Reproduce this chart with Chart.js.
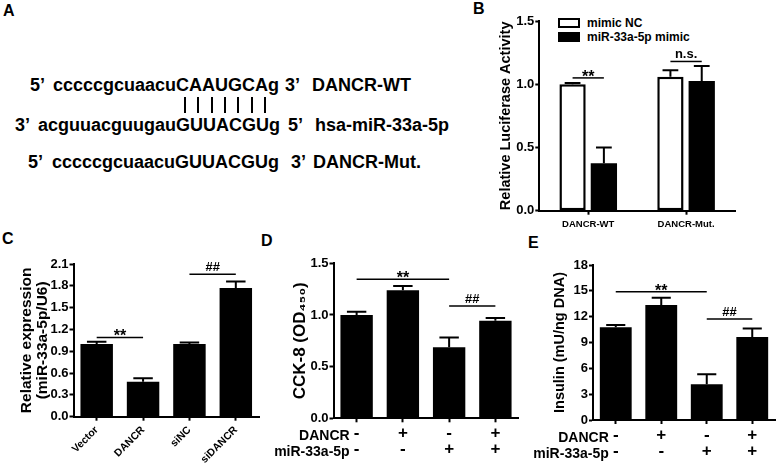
<!DOCTYPE html>
<html>
<head>
<meta charset="utf-8">
<script src="https://cdn.jsdelivr.net/npm/chart.js@4.4.0/dist/chart.umd.min.js"></script>
<style>
  html, body { margin: 0; padding: 0; background: #fff; }
  #fig { position: relative; width: 778px; height: 463px; overflow: hidden;
         font-family: "Liberation Sans", Arial, sans-serif; font-weight: bold; color: #000; }
  .t { position: absolute; white-space: nowrap; }
  .seq { font-size: 18px; line-height: 18px; }
  .lab { font-size: 16px; line-height: 16px; }
  .lg { font-size: 12px; line-height: 12px; }
  .pair { position: absolute; width: 2px; height: 16px; background: #000; top: 97px; }
  .lgbox { position: absolute; left: 558px; width: 22px; height: 10px; box-sizing: border-box; border: 2px solid #000; }
  canvas { position: absolute; }
</style>
</head>
<body>
<div id="fig">
  <!-- panel letters -->
  <div class="t lab" style="left:3px;top:3px">A</div>
  <div class="t lab" style="left:473px;top:1px">B</div>
  <div class="t lab" style="left:2px;top:231px">C</div>
  <div class="t lab" style="left:261px;top:233px">D</div>
  <div class="t lab" style="left:528px;top:235px">E</div>

  <!-- panel A: sequence alignment -->
  <div class="t seq" style="left:30px;top:76px">5’</div>
  <div class="t seq" style="left:53px;top:76px">cccccgcuaacuCAAUGCAg</div>
  <div class="t seq" style="left:285px;top:76px">3’</div>
  <div class="t seq" style="left:312px;top:76px">DANCR-WT</div>

  <div class="pair" style="left:184px"></div>
  <div class="pair" style="left:197px"></div>
  <div class="pair" style="left:211px"></div>
  <div class="pair" style="left:224px"></div>
  <div class="pair" style="left:237px"></div>
  <div class="pair" style="left:251px"></div>
  <div class="pair" style="left:264px"></div>

  <div class="t seq" style="left:15px;top:116px">3’</div>
  <div class="t seq" style="left:38px;top:116px">acguuacguugauGUUACGUg</div>
  <div class="t seq" style="left:288px;top:116px">5’</div>
  <div class="t seq" style="left:315px;top:116px">hsa-miR-33a-5p</div>

  <div class="t seq" style="left:28px;top:153px">5’</div>
  <div class="t seq" style="left:52px;top:153px">cccccgcuaacuGUUACGUg</div>
  <div class="t seq" style="left:291px;top:153px">3’</div>
  <div class="t seq" style="left:313px;top:153px">DANCR-Mut.</div>

  <!-- panel B legend -->
  <div class="lgbox" style="top:18px;background:#fff"></div>
  <div class="t lg" style="left:587px;top:17px">mimic NC</div>
  <div class="lgbox" style="top:32px;background:#000"></div>
  <div class="t lg" style="left:587px;top:31px">miR-33a-5p mimic</div>

  <canvas id="chartB" width="288" height="235" style="left:490px;top:0px"></canvas>
  <canvas id="chartC" width="270" height="238" style="left:0px;top:225px"></canvas>
  <canvas id="chartD" width="258" height="238" style="left:265px;top:225px"></canvas>
  <canvas id="chartE" width="263" height="238" style="left:515px;top:225px"></canvas>
</div>

<script>
// ---------------- Data ----------------

// Panel B: relative luciferase activity
const lucGroups = ["DANCR-WT", "DANCR-Mut."];
const lucSeries = ["mimic NC", "miR-33a-5p mimic"];
const lucNC = [1.00, 1.06];
const lucNCErr = [0.01, 0.05];
const lucMimic = [0.375, 1.025];
const lucMimicErr = [0.125, 0.12];

// Panel C: miR-33a-5p expression
const exprGroups = ["Vector", "DANCR", "siNC", "siDANCR"];
const exprValues = [1.00, 0.48, 1.00, 1.77];
const exprErr = [0.03, 0.05, 0.02, 0.09];

// Panels D and E share the treatment grid
const rowNames = ["DANCR", "miR-33a-5p"];
const dancrRow = ["-", "+", "-", "+"];
const mirRow = ["-", "-", "+", "+"];

// Panel D: CCK-8
const cckValues = [1.00, 1.24, 0.687, 0.945];
const cckErr = [0.03, 0.04, 0.095, 0.025];

// Panel E: insulin secretion
const insValues = [10.76, 13.35, 4.15, 9.65];
const insErr = [0.27, 0.85, 1.16, 0.98];

// Significance bars: text, from bar, to bar, height (data units)
const lucSigText = ["**", "n.s."];
const lucSigFrom = [[0, 0], [0, 1]];   // [dataset, category]
const lucSigTo = [[1, 0], [1, 1]];
const lucSigLevel = [1.05, 1.18];

const exprSigText = ["**", "##"];
const exprSigFrom = [0, 2];
const exprSigTo = [1, 3];
const exprSigLevel = [1.09, 1.96];

const cckSigText = ["**", "##"];
const cckSigFrom = [0, 2];
const cckSigTo = [2, 3];
const cckSigLevel = [1.345, 1.087];

const insSigText = ["**", "##"];
const insSigFrom = [0, 2];
const insSigTo = [2, 3];
const insSigLevel = [14.9, 11.73];

// ---------------- Chart setup ----------------

const FONT = '"Liberation Sans", Arial, sans-serif';
Chart.defaults.font.family = FONT;
Chart.defaults.font.weight = "bold";
Chart.defaults.color = "#000";
Chart.defaults.animation = false;
Chart.defaults.plugins.legend.display = false;
Chart.defaults.plugins.tooltip.enabled = false;

// upper-only error bars with a cap
function errorBars() {
    return {
        id: "errorBars",
        afterDatasetsDraw(chart) {
            const ctx = chart.ctx;
            const y = chart.scales.y;
            chart.data.datasets.forEach((ds, i) => {
                if (!ds.errors) return;
                chart.getDatasetMeta(i).data.forEach((bar, j) => {
                    const top = y.getPixelForValue(ds.data[j] + ds.errors[j]);
                    const cap = bar.width * 0.3;
                    ctx.save();
                    ctx.strokeStyle = "#000";
                    ctx.lineWidth = 2;
                    ctx.beginPath();
                    ctx.moveTo(bar.x, bar.y);
                    ctx.lineTo(bar.x, top);
                    ctx.moveTo(bar.x - cap, top);
                    ctx.lineTo(bar.x + cap, top);
                    ctx.stroke();
                    ctx.restore();
                });
            });
        }
    };
}

// horizontal significance lines with a label above
function sigMarks(texts, from, to, levels) {
    return {
        id: "sigMarks",
        afterDraw(chart) {
            const ctx = chart.ctx;
            const y = chart.scales.y;
            texts.forEach((txt, k) => {
                const a = Array.isArray(from[k]) ? chart.getDatasetMeta(from[k][0]).data[from[k][1]] : chart.getDatasetMeta(0).data[from[k]];
                const b = Array.isArray(to[k]) ? chart.getDatasetMeta(to[k][0]).data[to[k][1]] : chart.getDatasetMeta(0).data[to[k]];
                const py = y.getPixelForValue(levels[k]);
                ctx.save();
                ctx.strokeStyle = "#000";
                ctx.lineWidth = 1.5;
                ctx.beginPath();
                ctx.moveTo(a.x, py);
                ctx.lineTo(b.x, py);
                ctx.stroke();
                ctx.fillStyle = "#000";
                ctx.textAlign = "center";
                ctx.textBaseline = "alphabetic";
                if (txt === "**") {
                    ctx.font = "bold 16px " + FONT;
                    ctx.fillText(txt, (a.x + b.x) / 2, py + 4);
                } else {
                    ctx.font = "bold 13px " + FONT;
                    ctx.fillText(txt, (a.x + b.x) / 2, py - 3);
                }
                ctx.restore();
            });
        }
    };
}

// row names to the left of the +/- grid
function rowLabels(names) {
    return {
        id: "rowLabels",
        afterDraw(chart) {
            const ctx = chart.ctx;
            const x0 = chart.scales.x.getPixelForValue(0) - 7;
            ctx.save();
            ctx.font = "bold 14px " + FONT;
            ctx.fillStyle = "#000";
            ctx.textAlign = "right";
            ctx.textBaseline = "middle";
            names.forEach((n, k) => {
                ctx.fillText(n, x0, chart.chartArea.bottom + 18 + k * 16);
            });
            ctx.restore();
        }
    };
}

function yAxis(max, step, digits, width, title, titleSize, titlePad) {
    return {
        min: 0,
        max: max,
        ticks: { stepSize: step, padding: 1, font: { size: 13, weight: "bold", family: FONT }, callback: v => v.toFixed(digits) },
        grid: { drawOnChartArea: false, tickLength: 4, tickWidth: 2, tickColor: "#000" },
        border: { color: "#000", width: 2 },
        title: { display: true, text: title, font: { size: titleSize, lineHeight: 1, weight: "bold", family: FONT }, padding: { top: titlePad, bottom: 0 } },
        afterFit: s => { s.width = width; }
    };
}

function xAxis(height, fontSize, pad, rot) {
    return {
        ticks: { font: { size: fontSize, lineHeight: 16 / fontSize, weight: "bold", family: FONT }, padding: pad, maxRotation: rot, minRotation: rot, autoSkip: false },
        grid: { offset: false, drawOnChartArea: false, tickLength: 4, tickWidth: 2, tickColor: "#000" },
        border: { color: "#000", width: 2 },
        afterFit: s => { s.height = height; }
    };
}

// ---------------- Panel B ----------------
new Chart(document.getElementById("chartB"), {
    type: "bar",
    data: {
        labels: lucGroups,
        datasets: [
            { label: lucSeries[0], data: lucNC, errors: lucNCErr, backgroundColor: "#fff", borderColor: "#000", borderWidth: 2.5, borderSkipped: false },
            { label: lucSeries[1], data: lucMimic, errors: lucMimicErr, backgroundColor: "#000", borderWidth: 0 }
        ]
    },
    options: {
        responsive: false,
        categoryPercentage: 0.64,
        barPercentage: 0.84,
        layout: { padding: { top: 21, right: 43, left: 0, bottom: 0 } },
        scales: {
            x: xAxis(24.3, 9.5, 2, 0),
            y: yAxis(1.5, 0.5, 1, 49.3, "Relative Luciferase Activity", 14.5, 9)
        }
    },
    plugins: [errorBars(), sigMarks(lucSigText, lucSigFrom, lucSigTo, lucSigLevel)]
});

// ---------------- Panel C ----------------
new Chart(document.getElementById("chartC"), {
    type: "bar",
    data: {
        labels: exprGroups,
        datasets: [{ data: exprValues, errors: exprErr, backgroundColor: "#000", borderWidth: 0 }]
    },
    options: {
        responsive: false,
        categoryPercentage: 1.0,
        barPercentage: 0.7,
        layout: { padding: { top: 39, right: 11, left: 0, bottom: 0 } },
        scales: {
            x: xAxis(46.3, 10.5, 2, 45),
            y: yAxis(2.1, 0.3, 1, 73.5, ["Relative expression", "(miR-33a-5p/U6)"], 15.5, 19)
        }
    },
    plugins: [errorBars(), sigMarks(exprSigText, exprSigFrom, exprSigTo, exprSigLevel)]
});

// ---------------- Panel D ----------------
const gridLabels = dancrRow.map((d, i) => [d, mirRow[i]]);

new Chart(document.getElementById("chartD"), {
    type: "bar",
    data: {
        labels: gridLabels,
        datasets: [{ data: cckValues, errors: cckErr, backgroundColor: "#000", borderWidth: 0 }]
    },
    options: {
        responsive: false,
        categoryPercentage: 1.0,
        barPercentage: 0.7,
        layout: { padding: { top: 38.3, right: 4.5, left: 0, bottom: 0 } },
        scales: {
            x: xAxis(44.7, 17, 3, 0),
            y: yAxis(1.5, 0.5, 1, 68.5, "CCK-8 (OD₄₅₀)", 17, 26.5)
        }
    },
    plugins: [errorBars(), sigMarks(cckSigText, cckSigFrom, cckSigTo, cckSigLevel), rowLabels(rowNames)]
});

// ---------------- Panel E ----------------
new Chart(document.getElementById("chartE"), {
    type: "bar",
    data: {
        labels: gridLabels,
        datasets: [{ data: insValues, errors: insErr, backgroundColor: "#000", borderWidth: 0 }]
    },
    options: {
        responsive: false,
        categoryPercentage: 1.0,
        barPercentage: 0.7,
        layout: { padding: { top: 40, right: 3, left: 0, bottom: 0 } },
        scales: {
            x: xAxis(43, 17, 3, 0),
            y: yAxis(18, 3, 0, 78, "Insulin (mU/ng DNA)", 14.5, 37.75)
        }
    },
    plugins: [errorBars(), sigMarks(insSigText, insSigFrom, insSigTo, insSigLevel), rowLabels(rowNames)]
});
</script>
</body>
</html>
